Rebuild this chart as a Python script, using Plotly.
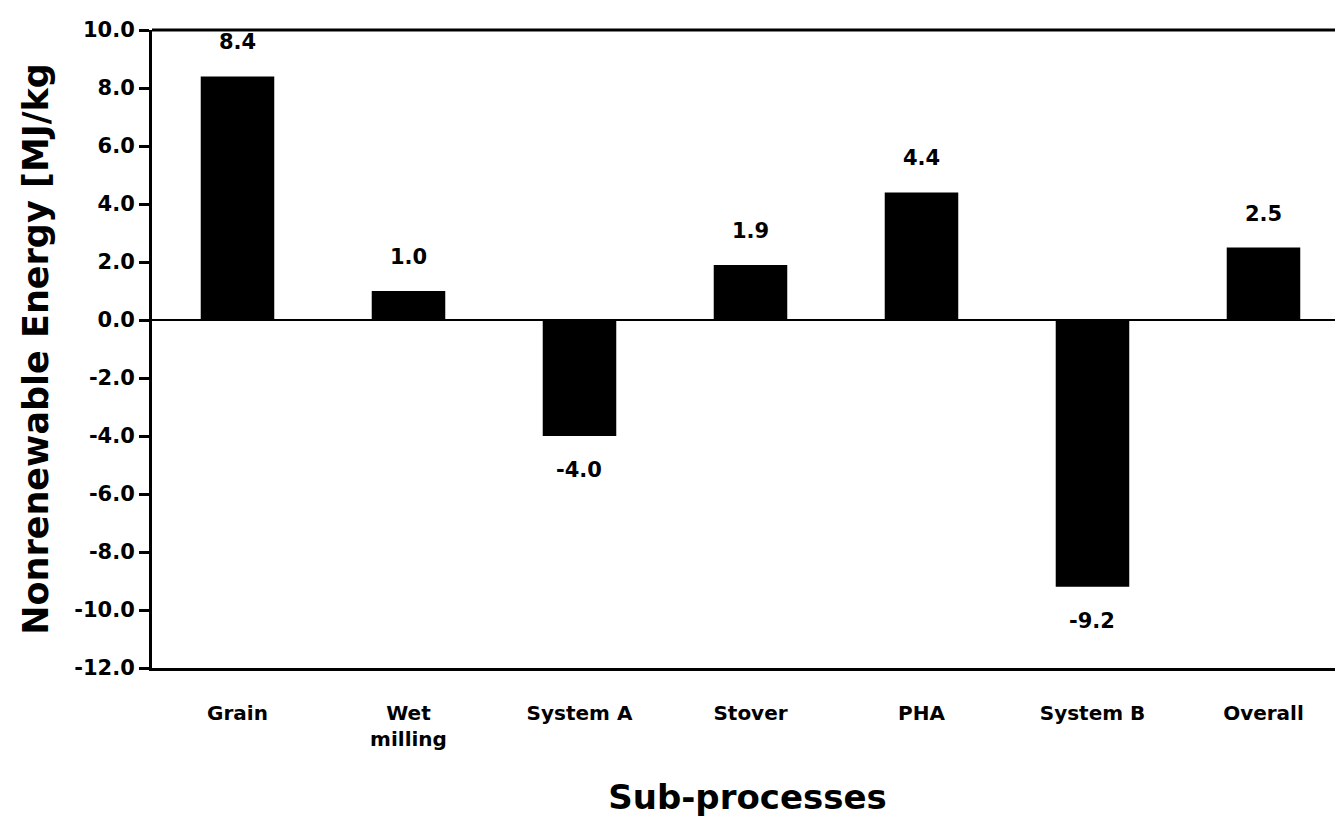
import plotly.graph_objects as go

categories = ["Grain", "Wet<br>milling", "System A", "Stover", "PHA", "System B", "Overall"]
values = [8.4, 1.0, -4.0, 1.9, 4.4, -9.2, 2.5]
y_ticks = [-12, -10, -8, -6, -4, -2, 0, 2, 4, 6, 8, 10]

FONT = "DejaVu Sans"

fig = go.Figure()
fig.add_trace(go.Bar(
    x=list(range(len(categories))), y=values,
    marker=dict(color="black", line=dict(width=0)),
    width=0.43,
))

for i, v in enumerate(values):
    fig.add_annotation(
        x=i, y=v, text=f"<b>{v:.1f}</b>", showarrow=False,
        yshift=34 if v >= 0 else -34,
        font=dict(family=FONT, size=21, color="black"),
    )

fig.add_shape(type="line", xref="paper", yref="paper", x0=0, x1=1, y0=1, y1=1,
              line=dict(color="black", width=3))

fig.update_layout(
    width=1335, height=823,
    margin=dict(l=144, r=0, t=22, b=163),
    plot_bgcolor="white", paper_bgcolor="white",
    showlegend=False,
    font=dict(family=FONT, color="black"),
    xaxis=dict(
        tickmode="array", tickvals=list(range(len(categories))),
        ticktext=[f"<b>{c}</b>" for c in categories],
        range=[-0.5, 6.465],
        showline=True, linecolor="black", linewidth=3,
        ticks="", showgrid=False, zeroline=False,
        tickfont=dict(family=FONT, size=20),
        ticklabelstandoff=25,
        title=dict(text="<b>Sub-processes</b>", font=dict(family=FONT, size=34), standoff=36),
    ),
    yaxis=dict(
        range=[-12, 10], tickmode="array", tickvals=y_ticks,
        ticktext=[f"<b>{t:.1f}</b>" for t in y_ticks],
        showline=True, linecolor="black", linewidth=3,
        ticks="outside", ticklen=10, tickwidth=3, tickcolor="black",
        showgrid=False, zeroline=True, zerolinecolor="black", zerolinewidth=2,
        tickfont=dict(family=FONT, size=21),
        title=dict(text="<b>Nonrenewable Energy [MJ/kg</b>", font=dict(family=FONT, size=35), standoff=16),
    ),
)

fig.write_html("out.html")
